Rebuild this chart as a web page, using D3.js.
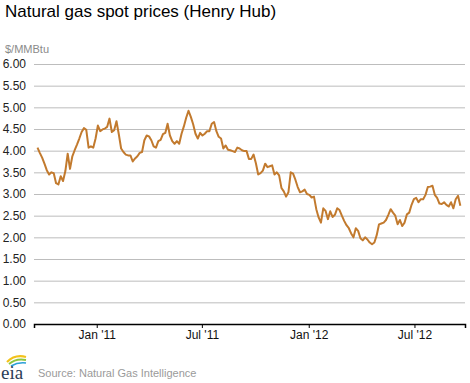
<!DOCTYPE html>
<html>
<head>
<meta charset="utf-8">
<script src="https://cdn.jsdelivr.net/npm/d3@7"></script>
<style>
  html, body { margin: 0; padding: 0; background: #ffffff; }
  svg { display: block; font-family: "Liberation Sans", Arial, sans-serif; }
</style>
</head>
<body>
<svg id="chart" width="470" height="383"></svg>
<script>
// ---- data ----
const title = "Natural gas spot prices (Henry Hub)";
const unitLabel = "$/MMBtu";
const sourceText = "Source: Natural Gas Intelligence";

const dates = [
  "2010-09-21","2010-09-25","2010-09-29","2010-10-03","2010-10-07","2010-10-11","2010-10-15","2010-10-19","2010-10-23","2010-10-27",
  "2010-10-31","2010-11-04","2010-11-08","2010-11-12","2010-11-16","2010-11-20","2010-11-24","2010-11-28","2010-12-02","2010-12-06",
  "2010-12-10","2010-12-14","2010-12-18","2010-12-22","2010-12-26","2010-12-30",
  "2011-01-03","2011-01-07","2011-01-11","2011-01-15","2011-01-19","2011-01-23","2011-01-27","2011-01-31","2011-02-04","2011-02-08",
  "2011-02-12","2011-02-16","2011-02-20","2011-02-24","2011-02-28","2011-03-04","2011-03-08","2011-03-12","2011-03-16","2011-03-20",
  "2011-03-24","2011-03-28","2011-04-01","2011-04-05","2011-04-09","2011-04-13","2011-04-17","2011-04-21","2011-04-25","2011-04-29",
  "2011-05-03","2011-05-07","2011-05-11","2011-05-15","2011-05-19","2011-05-23","2011-05-27","2011-05-31","2011-06-04","2011-06-08",
  "2011-06-12","2011-06-16","2011-06-20","2011-06-24","2011-06-28","2011-07-02","2011-07-06","2011-07-10","2011-07-14","2011-07-18",
  "2011-07-22","2011-07-26","2011-07-30","2011-08-03","2011-08-07","2011-08-11","2011-08-15","2011-08-19","2011-08-23","2011-08-27",
  "2011-08-31","2011-09-04","2011-09-08","2011-09-12","2011-09-16","2011-09-20","2011-09-24","2011-09-28","2011-10-02","2011-10-06",
  "2011-10-10","2011-10-14","2011-10-18","2011-10-22","2011-10-26","2011-10-30","2011-11-03","2011-11-07","2011-11-11","2011-11-15",
  "2011-11-19","2011-11-23","2011-11-27","2011-12-01","2011-12-05","2011-12-09","2011-12-13","2011-12-17","2011-12-21","2011-12-25",
  "2011-12-29",
  "2012-01-02","2012-01-06","2012-01-10","2012-01-14","2012-01-18","2012-01-22","2012-01-26","2012-01-30","2012-02-03","2012-02-07",
  "2012-02-11","2012-02-15","2012-02-19","2012-02-23","2012-02-27","2012-03-02","2012-03-06","2012-03-10","2012-03-14","2012-03-18",
  "2012-03-22","2012-03-26","2012-03-30","2012-04-03","2012-04-07","2012-04-11","2012-04-15","2012-04-19","2012-04-23","2012-04-27",
  "2012-05-01","2012-05-05","2012-05-09","2012-05-13","2012-05-17","2012-05-21","2012-05-25","2012-05-29","2012-06-02","2012-06-06",
  "2012-06-10","2012-06-14","2012-06-18","2012-06-22","2012-06-26","2012-06-30","2012-07-04","2012-07-08","2012-07-12","2012-07-16",
  "2012-07-20","2012-07-24","2012-07-28","2012-08-01","2012-08-05","2012-08-09","2012-08-13","2012-08-17","2012-08-21","2012-08-25",
  "2012-08-29","2012-09-02","2012-09-06","2012-09-10","2012-09-14","2012-09-18"
];

const prices = [
  4.07,3.95,3.84,3.70,3.55,3.45,3.50,3.48,3.25,3.22,
  3.41,3.30,3.53,3.93,3.58,3.87,4.01,4.14,4.28,4.43,
  4.52,4.48,4.07,4.10,4.07,4.28,
  4.58,4.45,4.49,4.51,4.55,4.74,4.43,4.47,4.68,4.38,
  4.05,3.97,3.91,3.89,3.89,3.75,3.82,3.87,3.95,3.97,
  4.24,4.35,4.33,4.24,4.10,4.07,4.22,4.25,4.38,4.41,
  4.62,4.35,4.22,4.16,4.22,4.16,4.39,4.56,4.76,4.92,
  4.78,4.61,4.39,4.28,4.41,4.35,4.39,4.45,4.45,4.62,
  4.66,4.45,4.32,4.28,4.05,4.12,4.02,4.01,3.99,3.97,
  4.07,4.05,4.01,3.99,3.99,3.81,3.81,3.91,3.71,3.45,
  3.48,3.54,3.70,3.62,3.64,3.66,3.45,3.50,3.43,3.14,
  3.06,2.94,3.04,3.50,3.47,3.33,3.16,3.04,3.06,3.10,
  3.00,
  2.98,2.92,2.94,2.65,2.46,2.34,2.67,2.61,2.42,2.60,
  2.47,2.52,2.67,2.63,2.50,2.38,2.28,2.21,2.09,2.00,
  2.21,2.15,1.98,1.93,2.00,1.95,1.88,1.84,1.88,2.05,
  2.30,2.32,2.34,2.40,2.52,2.65,2.57,2.50,2.30,2.40,
  2.26,2.34,2.53,2.57,2.75,2.88,2.91,2.81,2.88,2.88,
  2.98,3.16,3.17,3.19,2.98,2.91,2.78,2.77,2.81,2.75,
  2.71,2.81,2.67,2.88,2.96,2.73
];

const yTicks = [0, 0.5, 1, 1.5, 2, 2.5, 3, 3.5, 4, 4.5, 5, 5.5, 6];
const xTickDates = ["2011-01-01", "2011-07-01", "2012-01-01", "2012-07-01"];
const xTickLabels = ["Jan '11", "Jul '11", "Jan '12", "Jul '12"];
const xDomain = ["2010-09-15", "2012-09-26"];

// ---- drawing ----
const parse = d3.utcParse("%Y-%m-%d");
const data = dates.map((d, i) => ({ date: parse(d), value: prices[i] }));

const svg = d3.select("#chart");
const plot = { left: 34, right: 465, top: 64, bottom: 324 };

const x = d3.scaleUtc().domain(xDomain.map(parse)).range([plot.left, plot.right]);
const y = d3.scaleLinear().domain([0, 6]).range([plot.bottom, plot.top]);

// title
svg.append("text")
  .attr("x", 5).attr("y", 17)
  .attr("font-size", 17).attr("fill", "#000")
  .text(title);

// unit label
svg.append("text")
  .attr("x", 5).attr("y", 53)
  .attr("font-size", 11).attr("fill", "#8a8a8a")
  .text(unitLabel);

// gridlines + y labels
const yAxis = d3.axisLeft(y).tickValues(yTicks).tickFormat(d3.format(".2f"))
  .tickSize(-(plot.right - plot.left)).tickPadding(8);
const gy = svg.append("g").attr("transform", `translate(${plot.left},0)`).call(yAxis);
gy.select(".domain").remove();
gy.selectAll(".tick line").attr("stroke", "#bdbdbd").attr("stroke-width", 1);
gy.selectAll(".tick text").attr("font-size", 12).attr("fill", "#222")
  .attr("font-family", "'Liberation Sans', Arial, sans-serif");
gy.selectAll(".tick").filter(d => d === 0).select("line").remove();

// x axis
const xAxis = d3.axisBottom(x).tickValues(xTickDates.map(parse))
  .tickFormat((d, i) => xTickLabels[i]).tickSizeOuter(0).tickSize(4).tickPadding(2);
const gx = svg.append("g").attr("transform", `translate(0,${plot.bottom})`).call(xAxis);
gx.select(".domain").attr("stroke", "#000").attr("stroke-width", 1.5);
gx.selectAll(".tick line").attr("stroke", "#000");
gx.selectAll(".tick text").attr("font-size", 12).attr("fill", "#111")
  .attr("font-family", "'Liberation Sans', Arial, sans-serif");

// line
const line = d3.line().x(d => x(d.date)).y(d => y(d.value)).curve(d3.curveLinear);
svg.append("path").datum(data)
  .attr("fill", "none")
  .attr("stroke", "#c27a2e")
  .attr("stroke-width", 2)
  .attr("stroke-linejoin", "round")
  .attr("d", line);

// eia logo
const logo = svg.append("g").attr("transform", "translate(1,352)");
logo.append("path").attr("d", "M6,10 Q14,2 25,5").attr("fill", "none").attr("stroke", "#f2c21b").attr("stroke-width", 2.2);
logo.append("path").attr("d", "M8,12 Q15,6 25,8").attr("fill", "none").attr("stroke", "#8cc63f").attr("stroke-width", 1.8);
logo.append("path").attr("d", "M10,14 Q17,10 25,11").attr("fill", "none").attr("stroke", "#2a9fd6").attr("stroke-width", 1.6);
logo.append("text").attr("x", 0).attr("y", 27)
  .attr("font-family", "'Liberation Serif', 'DejaVu Serif', serif")
  .attr("font-size", 19).attr("fill", "#2b3e57").text("eia");

// source
svg.append("text")
  .attr("x", 38).attr("y", 377)
  .attr("font-size", 11).attr("fill", "#9a9a9a")
  .text(sourceText);
</script>
</body>
</html>
